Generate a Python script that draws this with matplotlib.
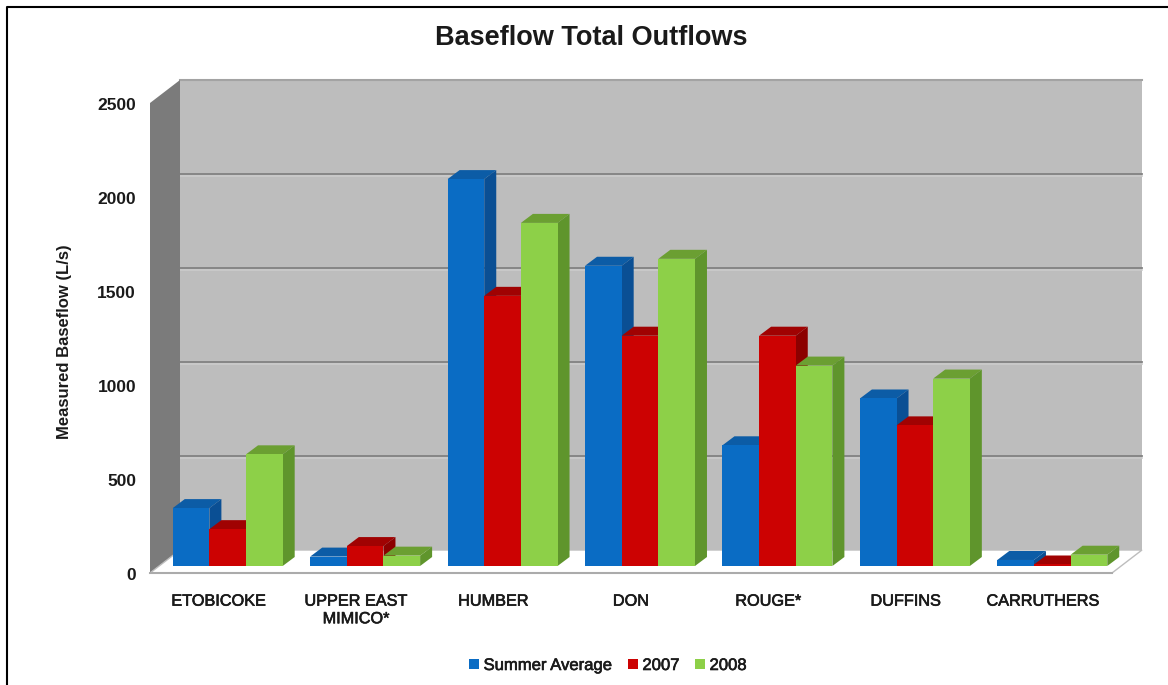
import matplotlib
matplotlib.use("Agg")
import matplotlib.pyplot as plt
import matplotlib.patheffects as pe
import numpy as np
from matplotlib.patches import Patch, Polygon
from matplotlib.transforms import Affine2D, IdentityTransform

categories = ["ETOBICOKE", "UPPER EAST\nMIMICO*", "HUMBER", "DON", "ROUGE*", "DUFFINS", "CARRUTHERS"]
summer_average = [308, 50, 2058, 1597, 642, 891, 32]
y2007 = [196, 106, 1437, 1225, 1225, 748, 8]
y2008 = [594, 55, 1825, 1634, 1066, 997, 60]
yticks = [0, 500, 1000, 1500, 2000, 2500]

W, H = 1168, 685
plt.rcParams["font.family"] = ["Liberation Sans", "DejaVu Sans"]
fig = plt.figure(figsize=(W / 100, H / 100), dpi=100, facecolor="white")
ax = fig.add_axes([159 / W, 119 / H, 962 / W, 470 / H])
ax.set_xlim(-0.5, 6.5)
ax.set_ylim(0, 2500)
ax.patch.set_visible(False)
for s in ax.spines.values():
    s.set_visible(False)

FRONT = (-9, -7)      # pixel offset: front edge of floor relative to bar plane
BACK = (21, 16)       # pixel offset: back wall relative to bar plane
DEPTH = (12, 9)       # pixel offset: bar depth
HEAVY = [pe.withStroke(linewidth=0.45, foreground="#1a1a1a")]


def px(x, y, off=(0, 0)):
    p = ax.transData.transform((x, y))
    return (p[0] + off[0], p[1] + off[1])


def poly(points, **kw):
    ax.add_patch(Polygon(points, closed=True, transform=IdentityTransform(), clip_on=False, **kw))


x0, x1 = ax.get_xlim()
top = yticks[-1]
# back wall
poly([px(x0, 0, BACK), px(x1, 0, BACK), px(x1, top, BACK), px(x0, top, BACK)],
     facecolor="#bdbdbd", edgecolor="none", zorder=1)
a, b = px(x0, top, BACK), px(x1, top, BACK)
ax.plot([a[0], b[0]], [a[1], b[1]], transform=IdentityTransform(), color="#a3a3a3", lw=1.5,
        clip_on=False, zorder=1.2)
# left wall
poly([px(x0, 0, FRONT), px(x0, 0, BACK), px(x0, top, BACK), px(x0, top, FRONT)],
     facecolor="#7b7b7b", edgecolor="none", zorder=2)
# floor
poly([px(x0, 0, FRONT), px(x1, 0, FRONT), px(x1, 0, BACK), px(x0, 0, BACK)],
     facecolor="white", edgecolor="#bdbdbd", lw=1.0, zorder=2)
ax.plot(*zip(px(x0, 0, FRONT), px(x1, 0, FRONT)), transform=IdentityTransform(),
        color="#ababab", lw=1.5, clip_on=False, zorder=2.5)
# gridlines on the back wall
for v in yticks[1:-1]:
    a, b = px(x0, v, BACK), px(x1, v, BACK)
    ax.plot([a[0], b[0]], [a[1] - 1.5, b[1] - 1.5], transform=IdentityTransform(),
            color="#cbcbcb", lw=1.2, clip_on=False, zorder=1.5)
    ax.plot([a[0], b[0]], [a[1], b[1]], transform=IdentityTransform(),
            color="#828282", lw=1.3, clip_on=False, zorder=1.6)

series = [
    ("Summer Average", summer_average, "#0a6cc4", "#0a4f94", "#0c5ca6"),
    ("2007", y2007, "#cc0202", "#8c0000", "#a00202"),
    ("2008", y2008, "#8dd048", "#5f952c", "#6b9f32"),
]
width = 0.8 / 3
pos = np.arange(len(categories))
for i, (name, vals, front, side, topc) in enumerate(series):
    xs = pos + (i - 1) * width
    z = 3 + i
    for x, v in zip(xs, vals):
        l, r = x - width / 2, x + width / 2
        poly([px(l, v), px(r, v), px(r, v, DEPTH), px(l, v, DEPTH)],
             facecolor=topc, edgecolor="none", zorder=z)
        poly([px(r, 0), px(r, 0, DEPTH), px(r, v, DEPTH), px(r, v)],
             facecolor=side, edgecolor="none", zorder=z)
    ax.bar(xs, vals, width=width, color=front, zorder=z + 0.5, clip_on=False, lw=0)

# Ticks and labels, aligned with the front plane
ax.tick_params(length=0)
ax.set_yticks(yticks)
ax.set_yticklabels([str(v) for v in yticks], fontsize=12.5, fontweight="bold", color="#1a1a1a")
ax.tick_params(axis="y", pad=10)
ax.set_xticks(pos)
ax.set_xticklabels(categories, fontsize=11.7, color="#1a1a1a", linespacing=1.22)
ax.tick_params(axis="x", pad=14.5)
shift = Affine2D().translate(-9, -7.5)
for lab in ax.get_yticklabels() + ax.get_xticklabels():
    lab.set_transform(lab.get_transform() + shift)
for lab in ax.get_xticklabels():
    lab.set_path_effects(HEAVY)

fig.text(64 / W, 1 - 342 / H, "Measured Baseflow (L/s)", rotation=90, ha="center", va="center",
         fontsize=12, fontweight="bold", color="#1a1a1a")
fig.text(591.5 / W, 1 - 38 / H, "Baseflow Total Outflows", ha="center", va="center",
         fontsize=19.5, fontweight="bold", color="#1a1a1a")

handles = [Patch(facecolor=c[2], label=c[0]) for c in series]
leg = fig.legend(handles=handles, loc="center", bbox_to_anchor=(608 / W, 1 - 665.5 / H), ncol=3, frameon=False,
                 fontsize=12, handlelength=0.6, handleheight=0.6, handletextpad=0.25, columnspacing=0.95,
                 labelcolor="#1a1a1a")
for t in leg.get_texts():
    t.set_path_effects(HEAVY)

# Frame lines: left and top only
fig.add_artist(plt.Line2D([7 / W, 7 / W, 1], [0, 1 - 7 / H, 1 - 7 / H], color="black", lw=1.5))

fig.savefig("out.png", dpi=100, facecolor="white")
